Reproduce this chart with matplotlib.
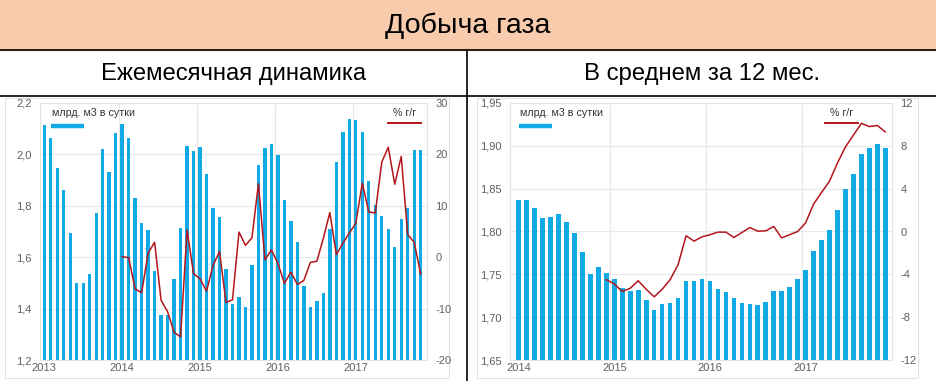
import matplotlib
matplotlib.use("Agg")
import matplotlib.pyplot as plt
import numpy as np
from matplotlib.patches import Rectangle

# Ежемесячная добыча, млрд м3 в сутки (янв 2013 - ноя 2017)
monthly = [2.113, 2.064, 1.949, 1.862, 1.696, 1.501, 1.500, 1.536, 1.773, 2.022, 1.931, 2.083,
           2.117, 2.064, 1.832, 1.732, 1.706, 1.548, 1.375, 1.375, 1.516, 1.713, 2.034, 2.013,
           2.029, 1.923, 1.791, 1.755, 1.556, 1.418, 1.444, 1.408, 1.571, 1.957, 2.025, 2.042,
           1.997, 1.823, 1.742, 1.661, 1.486, 1.405, 1.431, 1.460, 1.709, 1.969, 2.086, 2.139,
           2.132, 2.088, 1.895, 1.804, 1.761, 1.709, 1.638, 1.748, 1.790, 2.018, 2.018]
# % г/г, с янв 2014
monthly_yoy = [0.1, -0.1, -6.2, -6.9, 0.8, 2.9, -8.4, -10.6, -14.6, -15.5, 5.3, -3.2,
               -4.2, -6.6, -1.6, 1.1, -8.8, -8.3, 4.9, 2.3, 3.8, 14.3, -0.5, 1.4,
               -1.2, -5.1, -2.9, -5.3, -4.5, -1.0, -0.8, 3.7, 8.7, 0.5, 2.7, 4.7,
               6.6, 14.4, 8.8, 8.6, 18.5, 21.4, 14.2, 19.6, 4.4, 2.9, -3.3]
monthly_years = ["2013", "2014", "2015", "2016", "2017"]

# В среднем за 12 мес. (янв 2014 - ноя 2017)
avg12 = [1.837, 1.837, 1.827, 1.816, 1.817, 1.821, 1.811, 1.798, 1.776, 1.750, 1.759, 1.752,
         1.745, 1.734, 1.730, 1.732, 1.720, 1.708, 1.715, 1.717, 1.722, 1.742, 1.742, 1.744,
         1.742, 1.733, 1.729, 1.722, 1.716, 1.715, 1.714, 1.718, 1.730, 1.730, 1.735, 1.744,
         1.755, 1.777, 1.790, 1.802, 1.825, 1.850, 1.867, 1.891, 1.897, 1.902, 1.897]
# % г/г, с дек 2014
avg12_yoy = [-4.5, -4.9, -5.6, -5.3, -4.6, -5.4, -6.1, -5.4, -4.5, -3.1, -0.4, -0.9,
             -0.5, -0.3, -0.06, -0.06, -0.56, -0.1, 0.37, 0.03, 0.06, 0.47, -0.6, -0.3,
             0.0, 0.8, 2.56, 3.65, 4.7, 6.4, 7.9, 9.0, 10.1, 9.8, 9.9, 9.3]
avg12_years = ["2014", "2015", "2016", "2017"]

BLUE = "#12aae6"
RED = "#b3161c"
GRID = "#e8e8e8"
TXT = "#606060"
W, H = 937, 381

plt.rcParams['font.family'] = ['Liberation Sans', 'DejaVu Sans']

fig = plt.figure(figsize=(W / 100, H / 100), dpi=100)

# фон и шапка
bg = fig.add_axes([0, 0, 1, 1])
bg.set_xlim(0, W)
bg.set_ylim(H, 0)
bg.axis("off")
bg.add_patch(Rectangle((0, 0), W, 50, color="#f8cbad", zorder=0))
bg.plot([0, W], [50, 50], color="black", lw=1.2)
bg.plot([0, W], [96, 96], color="black", lw=1.2)
bg.plot([467.5, 467.5], [50, H], color="black", lw=1.2)
bg.add_patch(Rectangle((5, 98), 444, 280, fill=False, ec="#e2e2e2", lw=0.8))
bg.add_patch(Rectangle((477, 98), 441, 280, fill=False, ec="#e2e2e2", lw=0.8))
hfont = ['Liberation Sans Narrow', 'Liberation Sans', 'DejaVu Sans']
bg.text(468, 26, "Добыча газа", ha="center", va="center", fontsize=20.5, family=hfont)
bg.text(234, 74, "Ежемесячная динамика", ha="center", va="center", fontsize=17.2, family=hfont)
bg.text(702, 74, "В среднем за 12 мес.", ha="center", va="center", fontsize=17.2, family=hfont)

legends = []


def panel(px0, px1, values, yoy, yoy_start, years, ylim, yticks, ylabels,
          y2lim, y2ticks, y2labels, xlim, width, legend_x, legend_r):
    ax = fig.add_axes([px0 / W, (H - 360) / H, (px1 - px0) / W, 257 / H])
    ax.set_facecolor("none")
    x = np.arange(len(values))
    ax.bar(x, values, width=width, color=BLUE, zorder=2)
    ax.set_ylim(*ylim)
    ax.set_xlim(*xlim)
    ax.set_yticks(yticks)
    ax.set_yticklabels(ylabels)
    ax.set_xticks(np.arange(len(years)) * 12)
    ax.set_xticklabels(years)
    ax.set_xticks(np.arange(len(years) - 1) * 12 + 11.5, minor=True)
    ax.grid(axis="y", color=GRID, lw=0.8, zorder=0)
    ax.grid(axis="x", which="minor", color=GRID, lw=0.8, zorder=0)
    ax.tick_params(which="both", length=0, labelsize=8, colors=TXT)
    ax.tick_params(axis="y", pad=6)
    ax.tick_params(axis="x", pad=2)
    for s in ax.spines.values():
        s.set_color("#e4e4e4")
        s.set_linewidth(0.8)

    ax2 = ax.twinx()
    ax2.plot(np.arange(yoy_start, yoy_start + len(yoy)), yoy, color=RED, lw=1.1, zorder=3)
    ax2.set_ylim(*y2lim)
    ax2.set_yticks(y2ticks)
    ax2.set_yticklabels(y2labels)
    ax2.tick_params(length=0, labelsize=8, colors=TXT, pad=6)
    for s in ax2.spines.values():
        s.set_visible(False)
    legends.append((legend_x, legend_r))


panel(40, 427, monthly, monthly_yoy, 12, monthly_years,
      (1.2, 2.2), [1.2, 1.4, 1.6, 1.8, 2.0, 2.2], ["1,2", "1,4", "1,6", "1,8", "2,0", "2,2"],
      (-20, 30), [-20, -10, 0, 10, 20, 30], ["-20", "-10", "0", "10", "20", "30"],
      (-0.66, 58.97), 0.52, 51, 421)

panel(510, 892, avg12, avg12_yoy, 11, avg12_years,
      (1.65, 1.95), [1.65, 1.70, 1.75, 1.80, 1.85, 1.90, 1.95],
      ["1,65", "1,70", "1,75", "1,80", "1,85", "1,90", "1,95"],
      (-12, 12), [-12, -8, -4, 0, 4, 8, 12], ["-12", "-8", "-4", "0", "4", "8", "12"],
      (-1.09, 46.84), 0.58, 519, 858)

# легенды поверх графиков
top = fig.add_axes([0, 0, 1, 1], zorder=10)
top.set_xlim(0, W)
top.set_ylim(H, 0)
top.axis("off")
for lx, lr in legends:
    top.text(lx + 1, 113, "млрд. м3 в сутки", fontsize=7.7, color="#333333", va="center")
    top.plot([lx, lx + 33], [125.5, 125.5], color=BLUE, lw=3.2, solid_capstyle="butt")
    top.text(lr - 16, 113, "% г/г", fontsize=7.7, color="#333333", va="center", ha="center")
    top.plot([lr - 33, lr], [123, 123], color=RED, lw=1.4)

fig.savefig("out.png", dpi=100)
